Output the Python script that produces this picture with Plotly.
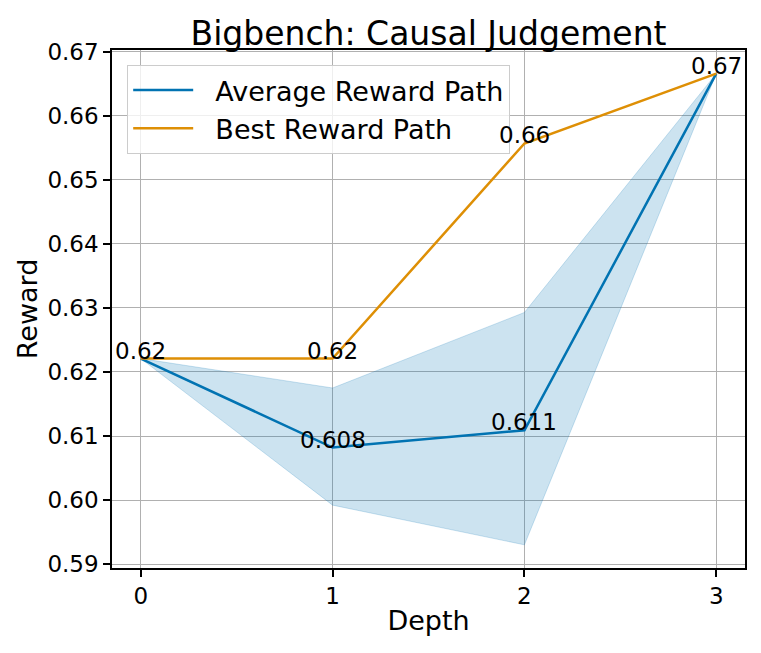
import plotly.graph_objects as go

# Values
depth = [0, 1, 2, 3]
avg_reward = [0.6221, 0.6082, 0.6109, 0.6666]
best_reward = [0.6221, 0.6221, 0.6557, 0.6666]
band_upper = [0.6221, 0.6175, 0.6293, 0.6666]
band_lower = [0.6221, 0.5992, 0.5930, 0.6666]
avg_labels = ["", "0.608", "0.611", ""]
best_labels = ["0.62", "0.62", "0.66", "0.67"]

BLUE = "#0173b2"
ORANGE = "#de8f05"
BAND = "rgba(1,115,178,0.2)"
FONT = "DejaVu Sans"
PAD = "\u00a0\u00a0"  # widens the gap between legend line and text

fig = go.Figure()

# Shaded band (lower then upper filled to it)
fig.add_trace(go.Scatter(
    x=depth, y=band_lower, mode="lines",
    line=dict(color=BAND, width=1), showlegend=False, hoverinfo="skip",
))
fig.add_trace(go.Scatter(
    x=depth, y=band_upper, mode="lines", fill="tonexty", fillcolor=BAND,
    line=dict(color=BAND, width=1), showlegend=False, hoverinfo="skip",
))

fig.add_trace(go.Scatter(
    x=depth, y=avg_reward, mode="lines", name=PAD + "Average Reward Path",
    line=dict(color=BLUE, width=2.5),
))
fig.add_trace(go.Scatter(
    x=depth, y=best_reward, mode="lines", name=PAD + "Best Reward Path",
    line=dict(color=ORANGE, width=2.5),
))

# Value labels, baseline at the data point
for xs, ys, labels in [(depth, avg_reward, avg_labels), (depth, best_reward, best_labels)]:
    for x, y, t in zip(xs, ys, labels):
        if not t:
            continue
        fig.add_annotation(
            x=x, y=y, text=t, showarrow=False,
            xanchor="center", yanchor="bottom", yshift=-7,
            font=dict(family=FONT, size=23, color="black"),
        )

axis_style = dict(
    showgrid=True,
    gridcolor="#b0b0b0",
    gridwidth=1.3,
    showline=True,
    linecolor="black",
    linewidth=1.5,
    mirror=True,
    ticks="outside",
    ticklen=7,
    tickwidth=1.5,
    tickcolor="black",
    zeroline=False,
    tickfont=dict(family=FONT, size=23, color="black"),
)

fig.update_xaxes(
    range=[-0.15, 3.15], tickvals=depth, ticktext=[str(d) for d in depth],
    title=dict(text="Depth", font=dict(family=FONT, size=27, color="black"), standoff=3),
    **axis_style,
)
fig.update_yaxes(
    range=[0.58938, 0.6703], dtick=0.01, tick0=0.59, tickformat=".2f",
    title=dict(text="Reward", font=dict(family=FONT, size=27, color="black"), standoff=2),
    **axis_style,
)

# the page puts the figure 8px in from the top-left corner
fig.update_layout(
    width=753,
    height=645,
    margin=dict(l=104, r=16, t=42, b=85),
    plot_bgcolor="white",
    paper_bgcolor="white",
    font=dict(family=FONT, color="black"),
    title=dict(
        text="Bigbench: Causal Judgement",
        x=0.5, xref="paper", xanchor="center",
        y=0.943, yref="container", yanchor="bottom",
        font=dict(family=FONT, size=33, color="black"),
    ),
    legend=dict(
        x=0.024, y=0.971, xanchor="left", yanchor="top",
        traceorder="normal",
        itemwidth=60,
        bgcolor="rgba(255,255,255,0.8)",
        bordercolor="#cccccc", borderwidth=1,
        font=dict(family=FONT, size=27, color="black"),
    ),
    showlegend=True,
)

fig.write_html("out.html")
